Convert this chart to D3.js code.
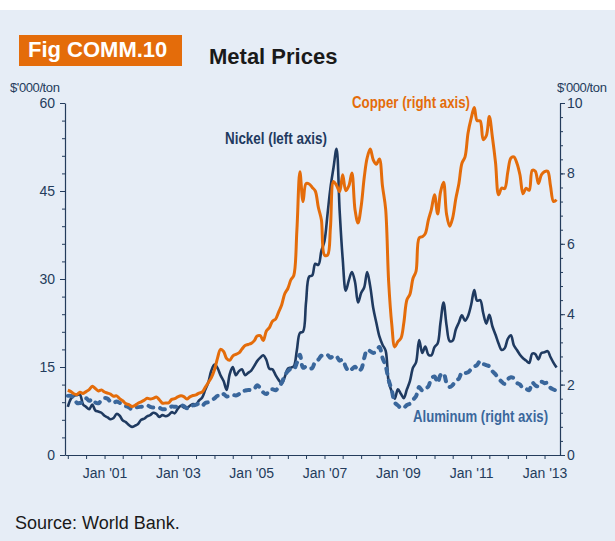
<!DOCTYPE html>
<html>
<head>
<meta charset="utf-8">
<script src="https://cdn.jsdelivr.net/npm/d3@7"></script>
<style>
  body { margin: 0; background: #fff; }
  svg { display: block; }
  text { font-family: "Liberation Sans", Arial, sans-serif; }
  .narrow { font-family: "Liberation Sans Narrow", "Arial Narrow", "Liberation Sans", Arial, sans-serif; font-weight: bold; }
</style>
</head>
<body>
<svg id="chart" width="615" height="541"></svg>
<script>
// Monthly LME prices, US$ '000 per ton, Jan 2000 – May 2013
const startYear = 2000;

const copper = [
  1.84, 1.80, 1.74, 1.72, 1.78, 1.75, 1.80, 1.86, 1.95, 1.89, 1.82, 1.85,
  1.79, 1.76, 1.73, 1.67, 1.68, 1.60, 1.54, 1.46, 1.43, 1.38, 1.41, 1.47,
  1.51, 1.56, 1.61, 1.59, 1.61, 1.65, 1.57, 1.47, 1.48, 1.48, 1.58, 1.60,
  1.65, 1.68, 1.66, 1.59, 1.65, 1.69, 1.71, 1.76, 1.79, 1.92, 2.06, 2.20,
  2.42, 2.76, 3.00, 2.94, 2.74, 2.69, 2.81, 2.86, 2.90, 3.01, 3.11, 3.14,
  3.17, 3.25, 3.38, 3.39, 3.25, 3.52, 3.62, 3.80, 3.86, 4.06, 4.27, 4.58,
  4.73, 4.98, 5.10, 6.39, 8.05, 7.20, 7.71, 7.70, 7.60, 7.50, 7.03, 6.68,
  5.68, 5.68, 6.45, 7.77, 7.66, 7.48, 7.96, 7.51, 7.65, 8.01, 6.97, 6.59,
  7.06, 7.89, 8.44, 8.69, 8.38, 8.26, 8.41, 7.63, 6.99, 4.93, 3.72, 3.07,
  3.22, 3.32, 3.75, 4.41, 4.57, 5.02, 5.22, 6.17, 6.20, 6.29, 6.68, 6.98,
  7.39, 6.85, 7.46, 7.75, 6.84, 6.50, 6.74, 7.28, 7.71, 8.29, 8.47, 9.15,
  9.56, 9.87, 9.50, 9.49, 8.96, 9.07, 9.62, 9.02, 8.30, 7.39, 7.58, 7.57,
  8.04, 8.44, 8.47, 8.29, 7.96, 7.42, 7.58, 7.52, 8.09, 8.06, 7.71, 7.96,
  8.05, 8.06, 7.65, 7.20, 7.25
];

const nickel = [
  8.2, 9.6, 10.1, 10.2, 10.3, 8.6, 8.2, 7.8, 8.6, 7.6, 7.4, 7.2,
  6.7, 6.4, 6.1, 6.3, 7.0, 6.7, 5.9, 5.6, 5.1, 4.8, 5.0, 5.3,
  6.0, 6.2, 6.6, 6.8, 7.2, 7.0, 6.5, 6.8, 6.6, 6.8, 7.3, 7.1,
  7.9, 8.4, 8.1, 8.0, 8.4, 8.7, 8.6, 9.3, 9.8, 11.1, 12.4, 14.4,
  15.4, 14.8, 13.6, 12.6, 11.1, 13.8, 15.0, 13.6, 14.3, 14.6, 13.6, 14.0,
  14.4, 15.2, 16.0, 16.6, 17.0, 16.2, 14.7, 14.6, 13.6, 12.8, 12.2, 13.3,
  14.7, 14.9, 15.1, 17.9, 20.8, 21.0, 26.0, 30.4, 30.6, 32.6, 32.4, 34.8,
  36.5, 41.2, 45.5, 49.0, 52.2, 41.6, 33.5, 28.0, 29.8, 31.2, 29.5, 26.0,
  27.6, 28.6, 31.2, 28.7, 25.0, 22.5, 20.2, 18.8, 17.8, 12.5, 10.8, 9.6,
  11.2, 10.4, 9.7, 11.2, 12.6, 14.9, 15.8, 19.6, 17.4, 18.5, 17.1, 17.0,
  18.4, 19.0, 22.5, 26.0, 22.1, 19.4, 19.5, 21.4, 22.6, 23.8, 22.9, 23.7,
  25.6, 28.1, 26.3, 26.4, 24.2, 22.4, 23.9, 21.9, 20.5, 19.0, 17.9, 18.2,
  19.8, 20.4, 18.7, 17.9, 17.1, 16.5, 16.1, 15.7, 17.3, 17.2, 16.3, 17.4,
  17.5, 17.7, 16.7, 15.7, 14.9
];

const aluminum = [
  1.68, 1.68, 1.64, 1.48, 1.48, 1.51, 1.61, 1.54, 1.59, 1.49, 1.47, 1.56,
  1.62, 1.60, 1.51, 1.48, 1.52, 1.48, 1.43, 1.39, 1.35, 1.30, 1.34, 1.36,
  1.37, 1.38, 1.41, 1.37, 1.35, 1.36, 1.34, 1.30, 1.30, 1.32, 1.38, 1.37,
  1.38, 1.42, 1.39, 1.33, 1.41, 1.41, 1.43, 1.46, 1.40, 1.48, 1.50, 1.55,
  1.61, 1.68, 1.65, 1.73, 1.66, 1.69, 1.71, 1.69, 1.73, 1.82, 1.83, 1.85,
  1.84, 1.88, 1.98, 1.90, 1.78, 1.73, 1.85, 1.87, 1.84, 1.93, 2.05, 2.26,
  2.38, 2.45, 2.43, 2.62, 2.85, 2.48, 2.51, 2.46, 2.47, 2.66, 2.71, 2.82,
  2.80, 2.84, 2.76, 2.82, 2.80, 2.68, 2.71, 2.50, 2.38, 2.44, 2.51, 2.39,
  2.44, 2.76, 2.99, 2.95, 2.90, 2.96, 3.07, 2.76, 2.53, 2.13, 1.84, 1.49,
  1.41, 1.33, 1.34, 1.42, 1.46, 1.57, 1.67, 1.93, 1.83, 1.88, 1.95, 2.18,
  2.23, 2.05, 2.27, 2.32, 2.05, 1.93, 1.99, 2.12, 2.17, 2.35, 2.33, 2.35,
  2.44, 2.51, 2.56, 2.67, 2.59, 2.55, 2.52, 2.38, 2.29, 2.18, 2.08, 2.02,
  2.15, 2.21, 2.18, 2.05, 2.00, 1.89, 1.88, 1.84, 2.06, 1.98, 1.95, 2.08,
  2.04, 2.05, 1.91, 1.86, 1.83
];

const leftTicks = [0, 15, 30, 45, 60];
const rightTicks = [0, 2, 4, 6, 8, 10];
const xTickLabels = ["Jan '01", "Jan '03", "Jan '05", "Jan '07", "Jan '09", "Jan '11", "Jan '13"];

const months = copper.map((_, i) => new Date(startYear, i, 1));

const C_COPPER = "#e46c0a";
const C_NICKEL = "#1f3a60";
const C_ALU = "#3a679c";
const C_AXIS = "#243c5c";

const svg = d3.select("#chart");

// page background
svg.append("rect").attr("width", 615).attr("height", 541).attr("fill", "#ffffff");
svg.append("rect").attr("y", 10).attr("width", 615).attr("height", 531).attr("fill", "#e6edf6");

// scales
const x = d3.scaleTime()
  .domain([new Date(1999, 11, 4), new Date(2013, 5, 4)])
  .range([65, 560]);
const yL = d3.scaleLinear().domain([0, 60]).range([455, 103]);
const yR = d3.scaleLinear().domain([0, 10]).range([455, 103]);

function styleAxis(g) {
  g.selectAll("path.domain").attr("stroke", C_AXIS).attr("stroke-width", 1.2);
  g.selectAll(".tick line").attr("stroke", C_AXIS).attr("stroke-width", 1);
  g.selectAll(".tick text").attr("fill", C_AXIS).attr("font-size", 14)
    .attr("font-family", "'Liberation Sans', Arial, sans-serif");
}

// left axis: minor ticks every 3, major every 15
svg.append("g").attr("transform", "translate(65,0)")
  .call(d3.axisLeft(yL).tickValues(d3.range(0, 61, 3)).tickSize(3).tickSizeOuter(0).tickFormat(""))
  .call(styleAxis);
svg.append("g").attr("transform", "translate(65,0)")
  .call(d3.axisLeft(yL).tickValues(leftTicks).tickSize(5).tickSizeOuter(0).tickPadding(5).tickFormat(d3.format("d")))
  .call(styleAxis)
  .call(g => g.select("path.domain").remove());

// right axis: minor ticks every 0.4, major every 2
svg.append("g").attr("transform", "translate(560,0)")
  .call(d3.axisRight(yR).tickValues(d3.range(0, 10.01, 0.4)).tickSize(3).tickSizeOuter(0).tickFormat(""))
  .call(styleAxis);
svg.append("g").attr("transform", "translate(560,0)")
  .call(d3.axisRight(yR).tickValues(rightTicks).tickSize(5).tickSizeOuter(0).tickPadding(2).tickFormat(d3.format("d")))
  .call(styleAxis)
  .call(g => g.select("path.domain").remove());

// bottom axis: ticks every six months, labels every other January
const parseLabel = d3.timeParse("%b '%y");
const labelTimes = xTickLabels.map(s => +parseLabel(s));
const halfYears = d3.timeMonth.every(6).range(new Date(2000, 0, 1), new Date(2013, 6, 1));
svg.append("g").attr("transform", "translate(0,455)")
  .call(d3.axisBottom(x).tickValues(halfYears).tickSize(4).tickSizeOuter(0).tickPadding(9)
    .tickFormat(d => {
      const k = labelTimes.indexOf(+d);
      return k >= 0 ? xTickLabels[k] : "";
    }))
  .call(styleAxis);

// unit captions
svg.append("text").attr("x", 10).attr("y", 92).attr("font-size", 13)
  .attr("fill", C_AXIS).attr("letter-spacing", -0.4).text("$'000/ton");
svg.append("text").attr("x", 557).attr("y", 92).attr("font-size", 13)
  .attr("fill", C_AXIS).attr("letter-spacing", -0.4).text("$'000/ton");

// series lines
const curve = d3.curveCatmullRom.alpha(0.5);
const lineL = d3.line().x((d, i) => x(months[i])).y(d => yL(d)).curve(curve);
const lineR = d3.line().x((d, i) => x(months[i])).y(d => yR(d)).curve(curve);

svg.append("path").datum(nickel).attr("d", lineL)
  .attr("fill", "none").attr("stroke", C_NICKEL).attr("stroke-width", 2.6)
  .attr("stroke-linejoin", "round");
svg.append("path").datum(aluminum).attr("d", lineR)
  .attr("fill", "none").attr("stroke", C_ALU).attr("stroke-width", 4)
  .attr("stroke-dasharray", "5,7").attr("stroke-linecap", "round")
  .attr("stroke-linejoin", "round");
svg.append("path").datum(copper).attr("d", lineR)
  .attr("fill", "none").attr("stroke", C_COPPER).attr("stroke-width", 3)
  .attr("stroke-linejoin", "round");

// series labels
svg.append("text").attr("class", "narrow").attr("x", 352).attr("y", 108)
  .attr("font-size", 16).attr("fill", C_COPPER)
  .attr("textLength", 118).attr("lengthAdjust", "spacingAndGlyphs")
  .text("Copper (right axis)");
svg.append("text").attr("class", "narrow").attr("x", 225).attr("y", 144)
  .attr("font-size", 16).attr("fill", C_NICKEL)
  .attr("textLength", 102).attr("lengthAdjust", "spacingAndGlyphs")
  .text("Nickel (left axis)");
svg.append("text").attr("class", "narrow").attr("x", 413).attr("y", 422)
  .attr("font-size", 16).attr("fill", C_ALU)
  .attr("textLength", 135).attr("lengthAdjust", "spacingAndGlyphs")
  .text("Aluminum (right axis)");

// figure tag and title
svg.append("rect").attr("x", 19).attr("y", 35).attr("width", 163).attr("height", 31).attr("fill", C_COPPER);
svg.append("text").attr("x", 28).attr("y", 57).attr("font-size", 22).attr("font-weight", "bold")
  .attr("fill", "#ffffff").text("Fig COMM.10");
svg.append("text").attr("x", 209).attr("y", 64).attr("font-size", 22).attr("font-weight", "bold")
  .attr("fill", "#1a1a1a").text("Metal Prices");

// source note
svg.append("text").attr("x", 15).attr("y", 529).attr("font-size", 18)
  .attr("fill", "#1a1a1a").text("Source: World Bank.");
</script>
</body>
</html>
